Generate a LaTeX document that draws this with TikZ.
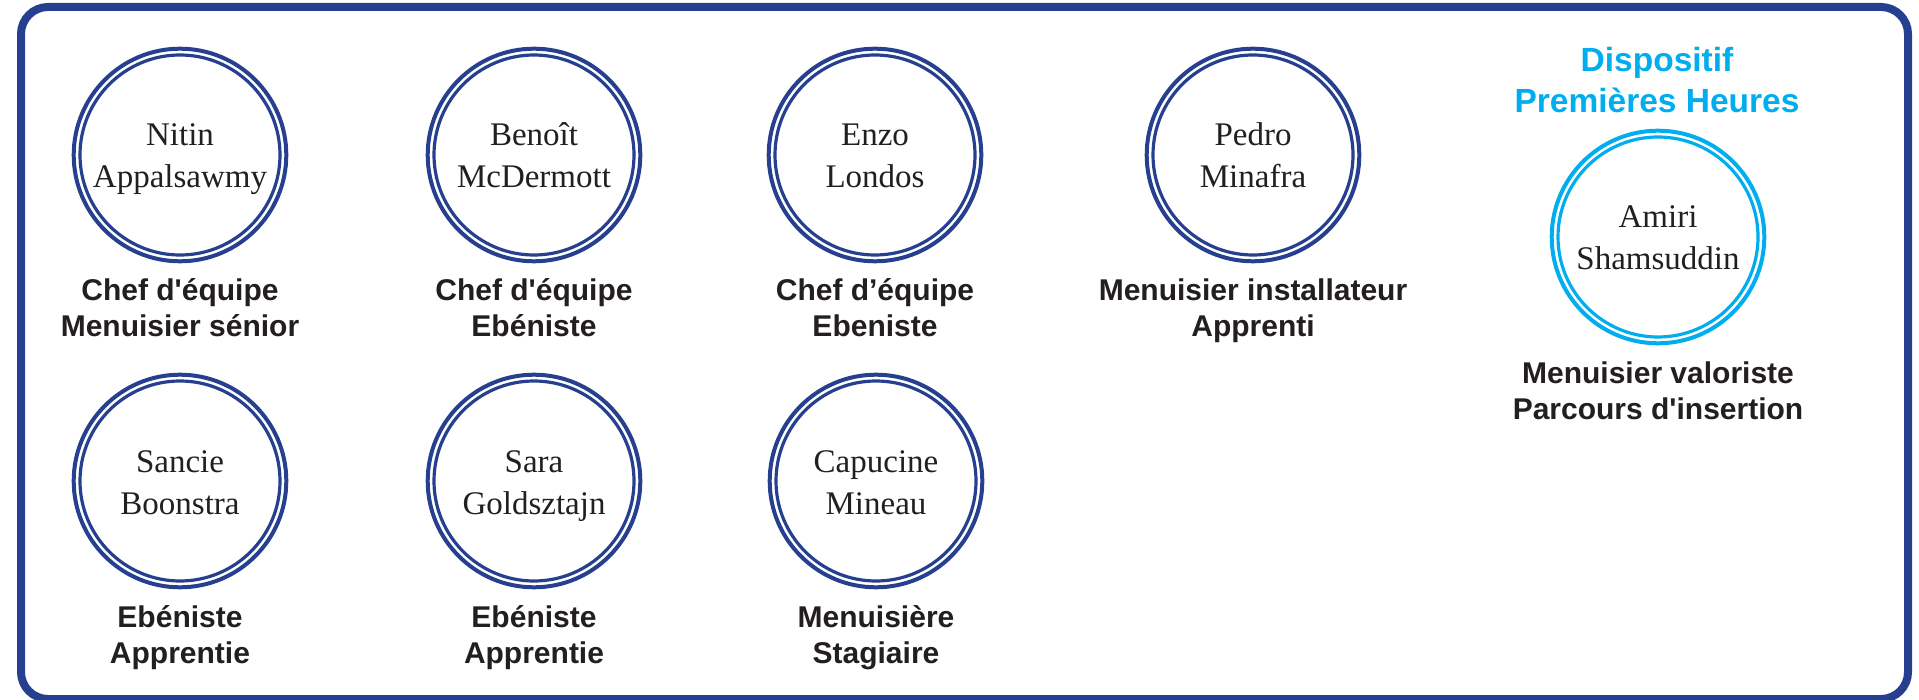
\documentclass[tikz,border=0pt]{standalone}
\usepackage{fontspec}
\setsansfont{Liberation Sans}[Ligatures=TeXOff]
\newfontfamily\namefont{Liberation Serif}
\definecolor{navy}{RGB}{38,64,143}
\definecolor{cyanpm}{RGB}{0,174,239}
\definecolor{ink}{RGB}{35,31,32}
\newcommand\person[8]{%
  \node[ring, draw=#8] (#1) at (#2,#3) {};
  \draw[innerring, draw=#8] (#1.center) circle[radius=100];
  \node[nm] (#1A) at (#2,#3-9) {#4};
  \node[nm] (#1B) at (#2,#3+33) {#5};
  \node[lbl] (#1R) at (#2,#3+146) {#6};
  \node[lbl] (#1S) at (#2,#3+182) {#7};
}
\begin{document}
\begin{tikzpicture}[x=1pt,y=-1pt,
  ring/.style={circle, line width=4pt, minimum size=212.6pt, inner sep=0pt},
  innerring/.style={line width=3.2pt},
  nm/.style={anchor=base, inner sep=0pt, text=ink, font=\fontsize{33}{42}\namefont},
  lbl/.style={anchor=base, inner sep=0pt, text=ink, font=\fontsize{30}{35}\sffamily\bfseries\selectfont},
  ttl/.style={anchor=base, inner sep=0pt, text=cyanpm, font=\fontsize{33.5}{41}\sffamily\bfseries\selectfont},
  frame/.style={draw=navy, line width=8pt, rounded corners=27pt}
]
\useasboundingbox (0,0) rectangle (1919,700);
\fill[white] (0,0) rectangle (1919,700);
\draw[frame] (21,7) rectangle (1908,699);

\person{nitin}{180}{155}{Nitin}{Appalsawmy}{Chef d'équipe}{Menuisier sénior}{navy}
\person{benoit}{534}{155}{Benoît}{McDermott}{Chef d'équipe}{Ebéniste}{navy}
\person{enzo}{875}{155}{Enzo}{Londos}{Chef d’équipe}{Ebeniste}{navy}
\person{pedro}{1253}{155}{Pedro}{Minafra}{Menuisier installateur}{Apprenti}{navy}
\person{sancie}{180}{481}{Sancie}{Boonstra}{Ebéniste}{Apprentie}{navy}
\person{sara}{534}{481}{Sara}{Goldsztajn}{Ebéniste}{Apprentie}{navy}
\person{capucine}{876}{481}{Capucine}{Mineau}{Menuisière}{Stagiaire}{navy}
\person{amiri}{1658}{237}{Amiri}{Shamsuddin}{Menuisier valoriste}{Parcours d'insertion}{cyanpm}

\node[ttl] (titleA) at (1657,72) {Dispositif};
\node[ttl] (titleB) at (1657,113) {Premières Heures};
\end{tikzpicture}
\end{document}
